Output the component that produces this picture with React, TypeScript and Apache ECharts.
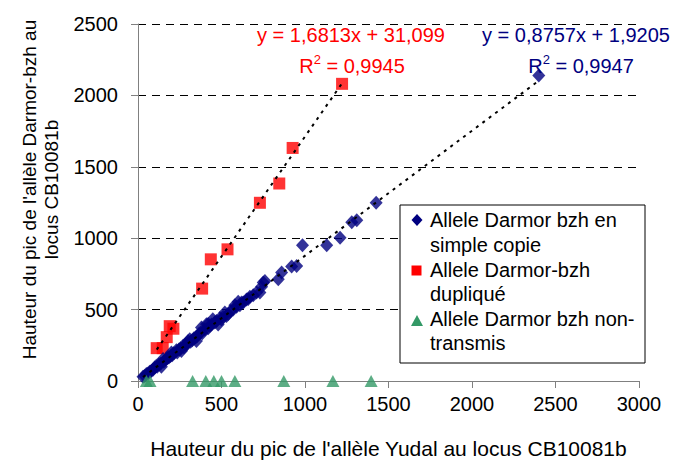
import React, { useEffect, useRef } from "react";
import * as echarts from "echarts";

const FONT = "'Liberation Sans', Arial, sans-serif";

const xTicks = [0, 500, 1000, 1500, 2000, 2500, 3000];
const yTicks = [0, 500, 1000, 1500, 2000, 2500];

const seriesNames = [
  "Allele Darmor bzh en simple copie",
  "Allele Darmor-bzh dupliqué",
  "Allele Darmor bzh non-transmis",
];

// Allele Darmor bzh en simple copie (blue diamonds)
const simpleCopie: [number, number][] = [
  [30, 30], [40, 35], [50, 49], [60, 52], [70, 65], [80, 70], [90, 78], [100, 95],
  [110, 107], [115, 100], [125, 115], [135, 120], [150, 154], [155, 135], [165, 150],
  [175, 160], [185, 165], [195, 175], [205, 180], [215, 195], [230, 215], [235, 200],
  [245, 220], [255, 230], [270, 246], [275, 235], [285, 255], [295, 260], [310, 293],
  [315, 275], [325, 285], [335, 300], [345, 305], [355, 315], [365, 330], [375, 340],
  [385, 335], [400, 360], [410, 398], [420, 370], [430, 385], [440, 395], [448, 433],
  [460, 410], [470, 420], [490, 440], [500, 430], [510, 450], [530, 456], [540, 470],
  [555, 490], [570, 500], [590, 520], [610, 530], [620, 550], [630, 550], [650, 570],
  [670, 590], [690, 600], [710, 620], [730, 620], [740, 660], [750, 690], [760, 700],
  [840, 712], [860, 759], [920, 801], [950, 805], [985, 950], [1130, 950],
  [1210, 1003], [1280, 1112], [1310, 1126], [1426, 1248], [2400, 2140],
  [140, 100], [200, 200], [260, 210], [300, 280], [350, 280], [380, 375],
  [420, 400], [480, 395], [520, 480], [580, 530], [600, 555], [660, 575],
];

// Allele Darmor-bzh dupliqué (red squares)
const duplique: [number, number][] = [
  [112, 230], [148, 230], [172, 307], [190, 384], [212, 366], [384, 647],
  [436, 852], [536, 922], [730, 1248], [846, 1383], [926, 1632], [1222, 2081],
];

// Allele Darmor bzh non-transmis (green triangles)
const nonTransmis: [number, number][] = [
  [50, 0], [72, 0], [327, 0], [406, 0], [454, 0], [500, 0], [580, 0],
  [873, 0], [1167, 0], [1396, 0],
];

// Trendline end points as drawn in the picture
const trendSimple: [number, number][] = [[30, 28], [2400, 2103]];
const trendDuplique: [number, number][] = [[112, 220], [1222, 2085]];

const eqDuplique = ["y = 1,6813x + 31,099", "0,9945"];
const eqSimple = ["y = 0,8757x + 1,9205", "0,9947"];

const NAVY = "#000080";
const RED = "#FF0000";
const GREEN = "#339966";

export default function App() {
  const ref = useRef<HTMLDivElement>(null);
  useEffect(() => {
    if (!ref.current) return;
    const chart = echarts.init(ref.current, null, { renderer: "svg" });
    const fs = 20;
    const legendX = 400;
    const legendY = 205;
    const lineCenters = [220, 245, 270, 294, 319, 343];
    const legendLines = [
      "Allele Darmor bzh en",
      "simple copie",
      "Allele Darmor-bzh",
      "dupliqué",
      "Allele Darmor bzh non-",
      "transmis",
    ];
    const rich = (color: string) => ({
      r: { fontSize: fs, fontFamily: FONT, fill: color, lineHeight: 26 },
      s: { fontSize: 13, fontFamily: FONT, fill: color, verticalAlign: "top", lineHeight: 26, padding: [0, 0, 10, 0] },
    });
    chart.setOption({
      animation: false,
      backgroundColor: "#ffffff",
      textStyle: { fontFamily: FONT },
      grid: { left: 138, right: 44, top: 24, bottom: 82, containLabel: false },
      xAxis: {
        type: "value",
        min: xTicks[0],
        max: xTicks[xTicks.length - 1],
        interval: 500,
        name: "Hauteur du pic de l'allèle Yudal au locus CB10081b",
        nameLocation: "middle",
        nameGap: 57,
        nameTextStyle: { fontSize: 21, color: "#000", fontFamily: FONT },
        axisLine: { show: true, lineStyle: { color: "#808080", width: 1 } },
        axisTick: { show: true, length: 7, inside: false, lineStyle: { color: "#808080" } },
        axisLabel: { fontSize: fs, color: "#000", margin: 13, fontFamily: FONT, formatter: (v: number) => String(v) },
        splitLine: { show: false },
      },
      yAxis: {
        type: "value",
        min: yTicks[0],
        max: yTicks[yTicks.length - 1],
        interval: 500,
        name: "Hauteur du pic de l'allèle Darmor-bzh au\nlocus CB10081b",
        nameLocation: "middle",
        nameGap: 74,
        nameTextStyle: { fontSize: 19, color: "#000", fontFamily: FONT, lineHeight: 22, padding: [0, 0, 0, 26] },
        axisLine: { show: true, lineStyle: { color: "#808080", width: 1 } },
        axisTick: { show: true, length: 7, inside: false, lineStyle: { color: "#808080" } },
        axisLabel: { fontSize: fs, color: "#000", margin: 20, fontFamily: FONT, formatter: (v: number) => String(v) },
        splitLine: { show: true, lineStyle: { color: "#000", width: 1, type: [8, 6] } },
      },
      series: [
        {
          name: seriesNames[1],
          type: "scatter",
          data: duplique,
          symbol: "rect",
          symbolSize: 12,
          itemStyle: { color: RED },
          z: 2,
        },
        {
          name: seriesNames[0],
          type: "scatter",
          data: simpleCopie,
          symbol: "diamond",
          symbolSize: [13, 14],
          itemStyle: { color: NAVY },
          z: 3,
        },
        {
          name: seriesNames[2],
          type: "scatter",
          data: nonTransmis,
          symbol: "triangle",
          symbolSize: [13, 12],
          itemStyle: { color: GREEN },
          z: 4,
        },
        {
          name: "trend simple",
          type: "line",
          data: trendSimple,
          showSymbol: false,
          symbol: "none",
          lineStyle: { color: "#000", width: 2, type: [3, 5] },
          z: 5,
          silent: true,
        },
        {
          name: "trend duplique",
          type: "line",
          data: trendDuplique,
          showSymbol: false,
          symbol: "none",
          lineStyle: { color: "#000", width: 2, type: [3, 5] },
          z: 5,
          silent: true,
        },
      ],
      graphic: [
        {
          type: "text",
          x: 351,
          y: 35,
          style: { text: eqDuplique[0], fill: RED, font: `${fs}px ${FONT}`, align: "center", verticalAlign: "middle" },
          z: 10,
        },
        {
          type: "text",
          x: 352,
          y: 66,
          style: {
            text: `{r|R}{s|2}{r| = ${eqDuplique[1]}}`,
            rich: rich(RED),
            align: "center",
            verticalAlign: "middle",
          },
          z: 10,
        },
        {
          type: "text",
          x: 576,
          y: 35,
          style: { text: eqSimple[0], fill: NAVY, font: `${fs}px ${FONT}`, align: "center", verticalAlign: "middle" },
          z: 10,
        },
        {
          type: "text",
          x: 581,
          y: 66,
          style: {
            text: `{r|R}{s|2}{r| = ${eqSimple[1]}}`,
            rich: rich(NAVY),
            align: "center",
            verticalAlign: "middle",
          },
          z: 10,
        },
        {
          type: "rect",
          shape: { x: legendX, y: legendY, width: 245, height: 158 },
          style: { fill: "#fff", stroke: "#000", lineWidth: 1 },
          z: 20,
        },
        {
          type: "polygon",
          shape: { points: [[417, 214], [422.5, 220], [417, 226], [411.5, 220]] },
          style: { fill: NAVY },
          z: 21,
        },
        {
          type: "rect",
          shape: { x: 411.5, y: 265.5, width: 10, height: 10 },
          style: { fill: RED },
          z: 21,
        },
        {
          type: "polygon",
          shape: { points: [[417, 315], [423, 326], [411, 326]] },
          style: { fill: GREEN },
          z: 21,
        },
        ...legendLines.map((t, i) => ({
          type: "text",
          x: 430,
          y: lineCenters[i],
          style: { text: t, fill: "#000", font: `${fs}px ${FONT}`, align: "left", verticalAlign: "middle" },
          z: 21,
        })),
      ],
    });
    return () => chart.dispose();
  }, []);
  return (
    <div
      ref={ref}
      style={{ position: "fixed", left: 0, top: 0, width: 683, height: 464, background: "#fff" }}
    />
  );
}
